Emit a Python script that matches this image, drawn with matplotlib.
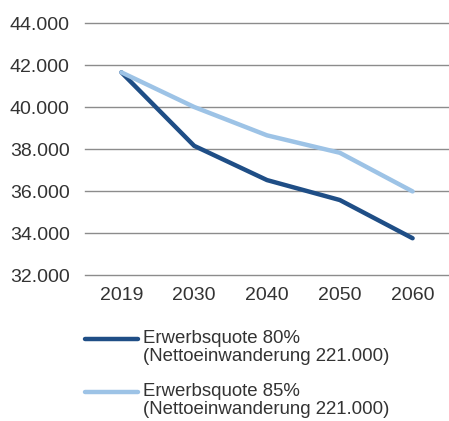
import matplotlib
matplotlib.use("Agg")
import matplotlib.pyplot as plt
from matplotlib.ticker import FuncFormatter, MultipleLocator
from matplotlib.lines import Line2D

years = ["2019", "2030", "2040", "2050", "2060"]
quote_80 = [41650, 38150, 36520, 35570, 33750]
quote_85 = [41650, 40000, 38650, 37820, 35980]
labels = ["Erwerbsquote 80%\n(Nettoeinwanderung 221.000)",
          "Erwerbsquote 85%\n(Nettoeinwanderung 221.000)"]
colors = ["#1f4e86", "#9dc3e6"]

plt.rcParams["font.family"] = ["Liberation Sans", "DejaVu Sans"]

W, H = 449, 421
fig = plt.figure(figsize=(W / 100, H / 100), dpi=100)
ax = fig.add_axes([85 / W, 1 - 275 / H, (W - 85) / W, (275 - 23) / H])

x = list(range(len(years)))
for vals, c in zip([quote_80, quote_85], colors):
    ax.plot(x, vals, color=c, lw=3.2, solid_capstyle="round", solid_joinstyle="round", zorder=3)

ax.set_xlim(-0.5, len(years) - 0.5)
ax.set_ylim(32000, 44000)
ax.yaxis.set_major_locator(MultipleLocator(2000))
ax.yaxis.set_major_formatter(FuncFormatter(lambda v, p: f"{v:,.0f}".replace(",", ".")))
ax.set_xticks(x)
ax.set_xticklabels(years)
ax.grid(axis="y", color="#8c8c8c", lw=1.0)
for gl in ax.get_ygridlines():
    gl.set_clip_on(False)
ax.set_axisbelow(True)
for s in ax.spines.values():
    s.set_visible(False)
ax.tick_params(length=0, labelsize=14, colors="#333333")
ax.tick_params(axis="y", pad=11)
ax.tick_params(axis="x", pad=9)

# legend drawn by hand so the handle sits on the first text line
for i, (lab, c) in enumerate(zip(labels, colors)):
    yl = 1 - (339 + i * 53) / H
    fig.add_artist(Line2D([85 / W, 138 / W], [yl, yl], color=c, lw=3.2,
                          solid_capstyle="round", transform=fig.transFigure))
    fig.text(143 / W, yl + 9 / H, lab, fontsize=13.4, color="#333333",
             va="top", ha="left", linespacing=1.08)

fig.savefig("out.png", dpi=100)
